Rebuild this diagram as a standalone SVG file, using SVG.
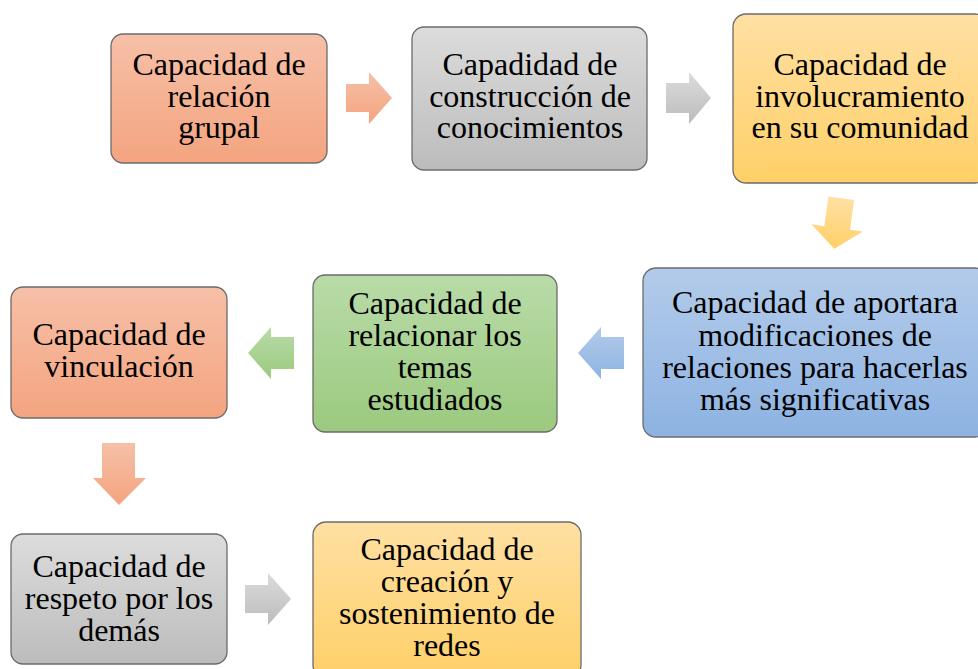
<svg xmlns="http://www.w3.org/2000/svg" width="978" height="669" viewBox="0 0 978 669">
  <defs>
    <linearGradient id="gSalmon" x1="0" y1="0" x2="0" y2="1">
      <stop offset="0" stop-color="#f6c0a8"/>
      <stop offset="1" stop-color="#f4a47f"/>
    </linearGradient>
    <linearGradient id="gGray" x1="0" y1="0" x2="0" y2="1">
      <stop offset="0" stop-color="#dcdcdc"/>
      <stop offset="1" stop-color="#bcbcbc"/>
    </linearGradient>
    <linearGradient id="gYellow" x1="0" y1="0" x2="0" y2="1">
      <stop offset="0" stop-color="#ffe0a3"/>
      <stop offset="1" stop-color="#ffd068"/>
    </linearGradient>
    <linearGradient id="gBlue" x1="0" y1="0" x2="0" y2="1">
      <stop offset="0" stop-color="#b3cbea"/>
      <stop offset="1" stop-color="#8db3e2"/>
    </linearGradient>
    <linearGradient id="gGreen" x1="0" y1="0" x2="0" y2="1">
      <stop offset="0" stop-color="#b9dba8"/>
      <stop offset="1" stop-color="#9bca7f"/>
    </linearGradient>
  </defs>
  <style>
    .box { stroke: #6b6b6b; stroke-width: 1.3; }
    .t { font-family: "Liberation Serif", "Times New Roman", serif; font-size: 32px; fill: #000; text-anchor: middle; }
  </style>
  <rect width="978" height="669" fill="#ffffff"/>

  <g id="connectors">
    <polygon points="346,84 369,84 369,72 392,98 369,124 369,112 346,112" fill="url(#gSalmon)"/>
    <polygon points="666,83 689,83 689,72 711,98 689,124 689,113 666,113" fill="url(#gGray)"/>
    <polygon points="825,198 851,198 851,228 864,228 838,249 812,228 825,228" fill="url(#gYellow)" transform="rotate(8 838 222)"/>
    <polygon points="624,337 601,337 601,327 578,353 601,379 601,369 624,369" fill="url(#gBlue)"/>
    <polygon points="294,337 271,337 271,327 248,353 271,379 271,369 294,369" fill="url(#gGreen)"/>
    <polygon points="102,443 135,443 135,478 146,478 119,505 93,478 102,478" fill="url(#gSalmon)"/>
    <polygon points="245,585 268,585 268,573 291,599 268,625 268,613 245,613" fill="url(#gGray)"/>
  </g>

  <g id="n1">
    <rect class="box" x="111" y="34" width="216" height="129" rx="12" fill="url(#gSalmon)"/>
    <text class="t" x="219" y="75">Capacidad de</text>
    <text class="t" x="219" y="107">relación</text>
    <text class="t" x="219" y="138">grupal</text>
  </g>
  <g id="n2">
    <rect class="box" x="412" y="27" width="235" height="143" rx="12" fill="url(#gGray)"/>
    <text class="t" x="530" y="75">Capadidad de</text>
    <text class="t" x="530" y="107">construcción de</text>
    <text class="t" x="530" y="138">conocimientos</text>
  </g>
  <g id="n3">
    <rect class="box" x="733" y="14" width="255" height="169" rx="13" fill="url(#gYellow)"/>
    <text class="t" x="860" y="75">Capacidad de</text>
    <text class="t" x="860" y="107">involucramiento</text>
    <text class="t" x="860" y="138">en su comunidad</text>
  </g>
  <g id="n4">
    <rect class="box" x="643" y="268" width="345" height="169" rx="13" fill="url(#gBlue)"/>
    <text class="t" x="815" y="313">Capacidad de aportara</text>
    <text class="t" x="815" y="346">modificaciones de</text>
    <text class="t" x="815" y="378">relaciones para hacerlas</text>
    <text class="t" x="815" y="410">más significativas</text>
  </g>
  <g id="n5">
    <rect class="box" x="313" y="275" width="244" height="157" rx="12" fill="url(#gGreen)"/>
    <text class="t" x="435" y="314">Capacidad de</text>
    <text class="t" x="435" y="346">relacionar los</text>
    <text class="t" x="435" y="378">temas</text>
    <text class="t" x="435" y="410">estudiados</text>
  </g>
  <g id="n6">
    <rect class="box" x="11" y="287" width="216" height="131" rx="12" fill="url(#gSalmon)"/>
    <text class="t" x="119" y="345">Capacidad de</text>
    <text class="t" x="119" y="377">vinculación</text>
  </g>
  <g id="n7">
    <rect class="box" x="11" y="534" width="216" height="130" rx="12" fill="url(#gGray)"/>
    <text class="t" x="119" y="577">Capacidad de</text>
    <text class="t" x="119" y="609">respeto por los</text>
    <text class="t" x="119" y="641">demás</text>
  </g>
  <g id="n8">
    <rect class="box" x="313" y="522" width="268" height="156" rx="13" fill="url(#gYellow)"/>
    <text class="t" x="447" y="560">Capacidad de</text>
    <text class="t" x="447" y="592">creación y</text>
    <text class="t" x="447" y="624">sostenimiento de</text>
    <text class="t" x="447" y="656">redes</text>
  </g>
</svg>
